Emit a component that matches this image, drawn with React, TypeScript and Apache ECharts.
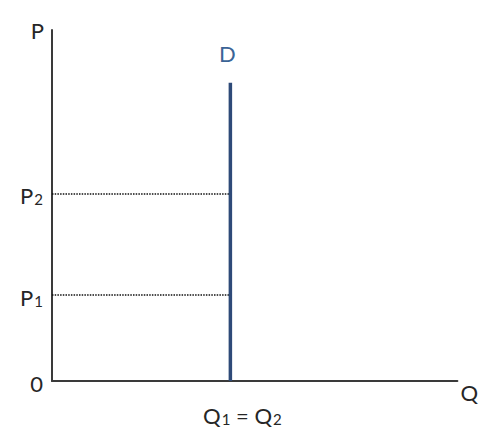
import React, { useEffect, useRef } from "react";
import * as echarts from "echarts";

// Quantity where the perfectly inelastic demand curve D sits (Q1 = Q2)
const quantityLevels = [4.4];
// Price levels marked on the P axis
const priceLabels = ["P1", "P2"];
const priceValues = [2.45, 5.33];
// Vertical extent of the demand curve
const demandPrice = [0, 8.5];
const axisMax = 10;

const FONT = "Lato, 'Open Sans', sans-serif";
const TXT = "#262626";

const rich = {
  m: { fontSize: 22, fontFamily: FONT, color: TXT, lineHeight: 26, verticalAlign: "bottom" as const },
  s: { fontSize: 15, fontFamily: FONT, color: TXT, lineHeight: 26, verticalAlign: "bottom" as const, padding: [0, 0, 0, 1] },
};

function sub(label: string) {
  return `{m|${label[0]}}{s|${label.slice(1)}}`;
}

export default function App() {
  const ref = useRef<HTMLDivElement>(null);
  useEffect(() => {
    document.body.style.margin = "0";
    const chart = echarts.init(ref.current!, null, { renderer: "svg" });
    const q = quantityLevels[0];
    const series: any[] = [
      {
        type: "line",
        data: [
          [q, demandPrice[0]],
          [q, demandPrice[1]],
        ],
        symbol: "none",
        lineStyle: { color: "#2e4a78", width: 3.5 },
        endLabel: {
          show: true,
          formatter: "D",
          color: "#3b6496",
          fontSize: 22,
          fontFamily: FONT,
          align: "center",
          verticalAlign: "bottom",
          distance: 0,
          offset: [-3, -18],
        },
        z: 5,
      },
      ...priceValues.map((p) => ({
        type: "line",
        data: [
          [0, p],
          [q, p],
        ],
        symbol: "none",
        lineStyle: { color: "#111111", width: 1.5, type: [1.5, 1.2] },
        z: 3,
      })),
    ];
    chart.setOption({
      animation: false,
      backgroundColor: "#ffffff",
      grid: { left: 52, right: 17, top: 30, bottom: 55 },
      xAxis: {
        type: "value",
        min: 0,
        max: axisMax,
        name: "Q",
        nameLocation: "end",
        nameGap: 3,
        nameTextStyle: {
          fontSize: 22,
          fontFamily: FONT,
          color: TXT,
          verticalAlign: "top",
          lineHeight: 22,
          padding: [0, 0, 0, 0],
        },
        axisLine: { show: true, lineStyle: { color: "#3a3a3a", width: 2 } },
        axisTick: { show: false },
        splitLine: { show: false },
        axisLabel: {
          customValues: quantityLevels,
          margin: 19,
          padding: [0, 0, 0, 24],
          formatter: () => "{m|Q}{s|1}{m| = Q}{s|2}",
          rich,
        },
      },
      yAxis: {
        type: "value",
        min: 0,
        max: axisMax,
        name: "P",
        nameLocation: "end",
        nameGap: 0,
        nameTextStyle: {
          fontSize: 22,
          fontFamily: FONT,
          color: TXT,
          align: "right",
          verticalAlign: "middle",
          padding: [0, 8, 0, 0],
        },
        axisLine: { show: true, lineStyle: { color: "#3a3a3a", width: 2 } },
        axisTick: { show: false },
        splitLine: { show: false },
        axisLabel: {
          customValues: [0, ...priceValues],
          margin: 9,
          formatter: (v: number) => {
            const i = priceValues.findIndex((p) => Math.abs(p - v) < 1e-6);
            return i >= 0 ? sub(priceLabels[i]) : `{m|${v}}`;
          },
          rich,
        },
      },
      series,
    });
    return () => chart.dispose();
  }, []);
  return <div ref={ref} style={{ width: 481, height: 436 }} />;
}
